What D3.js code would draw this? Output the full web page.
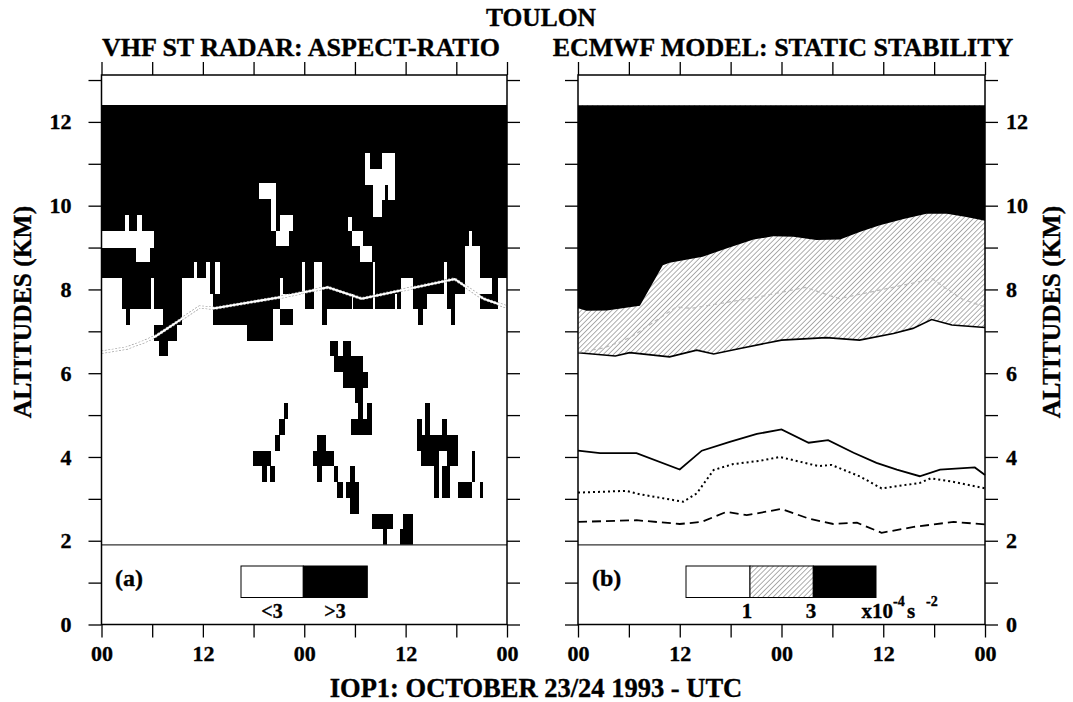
<!DOCTYPE html>
<html><head><meta charset="utf-8">
<script src="https://cdn.jsdelivr.net/npm/d3@7"></script>
<style>
body{margin:0;background:#fff}
svg{display:block}
text{font-family:"Liberation Serif","Times New Roman",serif;font-weight:bold;fill:#000;stroke:#000;stroke-width:0.35px}
</style>
</head><body><svg id="c" width="1073" height="702"></svg>
<script>
// ---------------- DATA ----------------
const hourTicks = [0,6,12,18,24,30,36,42,48];
const altTicks = [0,1,2,3,4,5,6,7,8,9,10,11,12,13];
const altLabels = [0,2,4,6,8,10,12];
const dataTop = 12.4, dataBase = 1.9;

// Radar aspect ratio (>3 black). Black region from top down to given altitude: [t0, t1, bottomKm]
const radarBlackBottom = [
 [0,2.4,8.28],[2.4,2.85,7.53],[2.85,3.35,7.15],[3.35,5.9,7.53],[5.9,6.25,8.28],[6.25,7.3,7.53],
 [7.3,9.5,7.15],[9.5,10.9,8.28],[10.9,11.25,8.65],[11.25,12.4,8.28],[12.4,12.85,8.65],[12.85,13.2,7.9],
 [13.2,14.0,7.15],[14.0,17.2,7.15],[17.2,20.3,6.78],[20.3,21.1,7.53],[21.1,21.5,8.28],[21.5,23.7,7.9],
 [23.7,24.1,8.65],[24.1,25.1,7.53],[25.1,26.1,8.65],[26.1,26.65,7.15],[26.65,29.6,7.53],[29.6,29.8,7.9],
 [29.8,32.1,7.53],[32.1,32.4,8.65],[32.4,34.75,7.53],[34.75,35.0,7.9],[35.0,35.5,7.53],[35.5,36.9,8.28],
 [36.9,37.5,7.53],[37.5,38.1,7.15],[38.1,38.5,7.53],[38.5,40.5,7.9],[40.5,40.9,8.65],[40.9,41.4,7.53],
 [41.4,41.9,7.15],[41.9,43.0,7.9],[43.0,43.5,9.03],[43.5,43.8,9.4],[43.8,44.8,9.03],[44.8,46.9,7.53],
 [46.9,48,8.28]
];
// White (<3) cells inside the black region: [t0, t1, z0, z1]
const radarWhiteCells = [
 [0,6.2,9.0,9.4],[2.8,3.3,9.4,9.78],[4.15,4.75,9.4,9.78],[4.1,5.8,8.65,9.0],
 [18.7,20.7,10.15,10.53],[20.1,20.65,9.4,10.15],[21.1,22.7,9.4,9.78],[20.65,22.2,9.03,9.4],
 [29.2,29.6,9.4,9.73],[29.6,31.0,9.03,9.4],[30.6,32.0,8.65,9.03],
 [31.2,31.8,10.5,11.25],[31.8,33.2,10.5,10.88],[33.2,33.6,10.13,11.25],[33.6,33.9,10.5,11.25],
 [33.9,34.75,10.13,11.25],[32.1,33.2,9.73,10.5],
 [13.4,14.0,7.9,8.65],[44.8,46.2,7.9,8.28]
];
// Black (>3) cells below the main region: [t0, t1, z0, z1]
const radarBlackCells = [
 [6.25,8.9,6.78,7.15],[6.8,7.9,6.4,6.78],[21.1,22.7,7.15,7.53],
 [27.05,28.0,6.4,6.78],[28.55,29.5,6.4,6.78],[27.5,31.0,6.03,6.4],[28.55,31.6,5.65,6.03],
 [30.0,31.0,5.28,5.65],[30.4,31.0,4.9,5.28],[31.4,32.0,4.9,5.28],[29.5,32.0,4.53,4.9],
 [21.6,22.1,4.9,5.28],[21.05,21.7,4.53,4.9],[20.5,21.1,4.15,4.53],[17.95,20.1,3.78,4.15],
 [19.0,19.55,3.4,3.78],[19.95,20.5,3.4,3.78],
 [25.5,26.6,4.15,4.53],[25.0,27.5,3.78,4.15],[25.5,26.05,3.4,3.78],[27.5,28.0,3.4,3.78],
 [27.9,28.55,3.03,3.4],[29.4,30.0,3.4,3.78],[29.0,30.5,3.03,3.4],[29.4,30.5,2.65,3.03],
 [32.0,34.5,2.28,2.65],[33.3,33.85,1.9,2.28],[35.7,36.85,1.9,2.65],[35.35,35.7,1.9,2.28],
 [38.3,38.9,4.53,5.28],[37.3,37.9,4.53,4.9],[40.3,40.9,4.53,4.9],[37.3,42.25,4.15,4.53],
 [37.8,39.9,3.78,4.15],[40.9,42.25,3.78,4.15],[39.3,39.9,3.03,3.78],[40.3,41.3,3.03,3.78],
 [43.85,44.2,3.4,4.15],[42.25,43.85,3.03,3.4],[44.8,45.2,3.03,3.4]
];
// Tropopause-like line: [hour, km]
const tropoLine = [[0,6.5],[3,6.6],[5,6.75],[6.3,6.87],[9.3,7.27],[11.6,7.58],[13.4,7.55],[21.3,7.82],
 [26.8,8.05],[30.8,7.78],[41.8,8.25],[45.2,7.78],[48,7.58]];

// ECMWF static stability
const n2Level3 = [[0,7.55],[1,7.49],[3.4,7.5],[7.3,7.61],[10.0,8.58],[10.8,8.64],[14.7,8.78],[17.5,8.98],
 [20.7,9.19],[23.0,9.27],[25.4,9.26],[28.1,9.18],[30.9,9.19],[33.3,9.38],[35.6,9.53],[38.4,9.68],
 [41.1,9.81],[43.5,9.81],[45.8,9.73],[48,9.64]];
const n2Level1 = [[0,6.49],[4.4,6.41],[6.1,6.49],[10.8,6.39],[14.0,6.55],[16.0,6.46],[19.1,6.59],[24.0,6.79],
 [29.3,6.85],[33.2,6.79],[37.2,6.95],[39.5,7.07],[41.7,7.28],[44.1,7.15],[48,7.09]];
const lineSolid = [[0,4.15],[2.6,4.09],[6.9,4.09],[12.0,3.70],[14.6,4.15],[17.9,4.36],[21.1,4.55],[24.0,4.66],
 [27.2,4.34],[29.5,4.40],[32.5,4.10],[35.2,3.86],[37.6,3.70],[40.3,3.54],[42.7,3.70],[46.8,3.75],[48,3.57]];
const lineDotted = [[0,3.15],[5.7,3.19],[7.3,3.11],[12.4,2.93],[14.0,3.13],[16.0,3.69],[18.3,3.83],[21.5,3.91],
 [23.8,4.0],[28.4,3.78],[29.9,3.81],[33.3,3.53],[35.8,3.25],[40.3,3.38],[41.6,3.49],[44.2,3.41],[48,3.25]];
const lineDashed = [[0,2.45],[6.9,2.49],[12.0,2.40],[14.6,2.45],[17.5,2.69],[19.9,2.61],[24.0,2.76],[27.2,2.53],
 [30.1,2.40],[32.9,2.43],[35.8,2.19],[39.6,2.33],[44.3,2.45],[48,2.39]];

// ---------------- DRAW ----------------
const svg = d3.select("#c");
const y = d3.scaleLinear().domain([0,13.12]).range([624.5,75]);
const xL = d3.scaleLinear().domain([0,48]).range([101.5,507]);
const xR = d3.scaleLinear().domain([0,48]).range([578,985]);

const defs = svg.append("defs");
const pat = defs.append("pattern").attr("id","hatch").attr("patternUnits","userSpaceOnUse")
  .attr("width",3.6).attr("height",3.6).attr("patternTransform","rotate(45)");
pat.append("rect").attr("width",3.6).attr("height",3.6).attr("fill","#fff");
pat.append("line").attr("x1",0).attr("y1",0).attr("x2",0).attr("y2",3.6)
  .attr("stroke","#333").attr("stroke-width",0.8);

// ---- Left panel ----
const gL = svg.append("g");
gL.append("rect").attr("x",xL(0)).attr("y",y(13.12)).attr("width",xL(48)-xL(0)).attr("height",y(0)-y(13.12)).attr("fill","#fff");
// black top region as one stepped area
const stepPts = radarBlackBottom.map(d=>[d[0],d[2]]).concat([[48, radarBlackBottom[radarBlackBottom.length-1][2]]]);
const stepArea = d3.area().curve(d3.curveStepAfter).x(d=>xL(d[0])).y0(y(dataTop)).y1(d=>y(d[1]));
gL.append("path").attr("d",stepArea(stepPts)).attr("fill","#000").attr("shape-rendering","crispEdges");
gL.selectAll("rect.wh").data(radarWhiteCells).join("rect").attr("class","wh")
  .attr("x",d=>xL(d[0])).attr("width",d=>xL(d[1])-xL(d[0]))
  .attr("y",d=>y(d[3])).attr("height",d=>y(d[2])-y(d[3])).attr("fill","#fff").attr("shape-rendering","crispEdges");
gL.selectAll("rect.bk").data(radarBlackCells).join("rect").attr("class","bk")
  .attr("x",d=>xL(d[0])).attr("width",d=>xL(d[1])-xL(d[0]))
  .attr("y",d=>y(d[3])).attr("height",d=>y(d[2])-y(d[3])).attr("fill","#000").attr("shape-rendering","crispEdges");
const lineL = d3.line().x(d=>xL(d[0])).y(d=>y(d[1]));
gL.append("path").attr("d",lineL(tropoLine)).attr("fill","none").attr("stroke","#999").attr("stroke-width",3.2).attr("stroke-dasharray","2,1.5");
gL.append("path").attr("d",lineL(tropoLine)).attr("fill","none").attr("stroke","#fff").attr("stroke-width",2);

// ---- Right panel ----
const gR = svg.append("g");
gR.append("rect").attr("x",xR(0)).attr("y",y(13.12)).attr("width",xR(48)-xR(0)).attr("height",y(0)-y(13.12)).attr("fill","#fff");
const areaR = d3.area().x(d=>xR(d[0])).y0(y(dataTop)).y1(d=>y(d[1]));
const lineR = d3.line().x(d=>xR(d[0])).y(d=>y(d[1]));
gR.append("path").attr("d",areaR(n2Level1)).attr("fill","url(#hatch)");
gR.append("path").attr("d",areaR(n2Level3)).attr("fill","#000");
gR.append("path").attr("d",lineR(n2Level1)).attr("fill","none").attr("stroke","#000").attr("stroke-width",1.6);
gR.append("path").attr("d",lineR(tropoLine)).attr("fill","none").attr("stroke","#bbb").attr("stroke-width",1.2).attr("stroke-dasharray","4,3");
gR.append("path").attr("d",lineR(lineSolid)).attr("fill","none").attr("stroke","#000").attr("stroke-width",1.8);
gR.append("path").attr("d",lineR(lineDotted)).attr("fill","none").attr("stroke","#000").attr("stroke-width",2).attr("stroke-dasharray","2,3");
gR.append("path").attr("d",lineR(lineDashed)).attr("fill","none").attr("stroke","#000").attr("stroke-width",1.8).attr("stroke-dasharray","9,5");

// base line at 1.9 km and frames
[xL, xR].forEach(x=>{
  svg.append("line").attr("x1",x(0)).attr("x2",x(48)).attr("y1",y(dataBase)).attr("y2",y(dataBase))
    .attr("stroke","#333").attr("stroke-width",1.1);
  svg.append("rect").attr("x",x(0)).attr("y",y(13.12)).attr("width",x(48)-x(0)).attr("height",y(0)-y(13.12))
    .attr("fill","none").attr("stroke","#000").attr("stroke-width",1.5);
});

// ---- Axes ----
const hourFmt = h => (h%24===0 ? "00" : (h%24===12 ? "12" : ""));
function styleAxis(g, size){
  g.select(".domain").remove();
  g.attr("font-family",null).attr("font-size",null);
  g.selectAll("line").attr("stroke-width",1.3);
  g.selectAll("text").style("font-size",size+"px");
}
[xL, xR].forEach(x=>{
  svg.append("g").attr("transform",`translate(0,${y(0)})`)
    .call(d3.axisBottom(x).tickValues(hourTicks).tickSize(13).tickSizeOuter(0).tickPadding(8).tickFormat(hourFmt))
    .call(g=>styleAxis(g,22));
  svg.append("g").attr("transform",`translate(0,${y(13.12)})`)
    .call(d3.axisTop(x).tickValues(hourTicks).tickSize(13).tickSizeOuter(0).tickFormat(""))
    .call(g=>styleAxis(g,22));
});
const altFmt = v => altLabels.includes(v) ? String(v) : "";
svg.append("g").attr("transform",`translate(${xL(0)},0)`)
  .call(d3.axisLeft(y).tickValues(altTicks).tickSize(13).tickSizeOuter(0).tickPadding(17).tickFormat(altFmt))
  .call(g=>styleAxis(g,22));
svg.append("g").attr("transform",`translate(${xL(48)},0)`)
  .call(d3.axisRight(y).tickValues(altTicks).tickSize(13).tickSizeOuter(0).tickFormat(""))
  .call(g=>styleAxis(g,22));
svg.append("g").attr("transform",`translate(${xR(0)},0)`)
  .call(d3.axisLeft(y).tickValues(altTicks).tickSize(13).tickSizeOuter(0).tickFormat(""))
  .call(g=>styleAxis(g,22));
svg.append("g").attr("transform",`translate(${xR(48)},0)`)
  .call(d3.axisRight(y).tickValues(altTicks).tickSize(13).tickSizeOuter(0).tickPadding(8).tickFormat(altFmt))
  .call(g=>styleAxis(g,22));

// ---- Titles ----
svg.append("text").attr("x",541).attr("y",26).attr("text-anchor","middle").style("font-size","25.5px").text("TOULON");
svg.append("text").attr("x",301).attr("y",56).attr("text-anchor","middle").style("font-size","26px").text("VHF ST RADAR: ASPECT-RATIO");
svg.append("text").attr("x",783).attr("y",56).attr("text-anchor","middle").style("font-size","26px").text("ECMWF MODEL: STATIC STABILITY");
svg.append("text").attr("x",536).attr("y",697).attr("text-anchor","middle").style("font-size","26.5px").text("IOP1: OCTOBER 23/24 1993 - UTC");
svg.append("text").attr("transform","translate(31,312) rotate(-90)").attr("text-anchor","middle").style("font-size","25.5px").text("ALTITUDES (KM)");
svg.append("text").attr("transform","translate(1060,312) rotate(-90)").attr("text-anchor","middle").style("font-size","25.5px").text("ALTITUDES (KM)");

// ---- Legends ----
svg.append("text").attr("x",115).attr("y",586).style("font-size","24px").text("(a)");
svg.append("rect").attr("x",241).attr("y",566).attr("width",62.3).attr("height",31.5).attr("fill","#fff").attr("stroke","#000").attr("stroke-width",1);
svg.append("rect").attr("x",303.3).attr("y",566).attr("width",64).attr("height",31.5).attr("fill","#000").attr("stroke","#000").attr("stroke-width",1);
svg.append("text").attr("x",272).attr("y",618).attr("text-anchor","middle").style("font-size","20px").text("<3");
svg.append("text").attr("x",335).attr("y",618).attr("text-anchor","middle").style("font-size","20px").text(">3");

svg.append("text").attr("x",592).attr("y",586).style("font-size","24px").text("(b)");
svg.append("rect").attr("x",686).attr("y",566).attr("width",64).attr("height",31.5).attr("fill","#fff").attr("stroke","#000").attr("stroke-width",1);
svg.append("rect").attr("x",750).attr("y",566).attr("width",63.3).attr("height",31.5).attr("fill","url(#hatch)").attr("stroke","#000").attr("stroke-width",1);
svg.append("rect").attr("x",813.3).attr("y",566).attr("width",62.7).attr("height",31.5).attr("fill","#000").attr("stroke","#000").attr("stroke-width",1);
svg.append("text").attr("x",747).attr("y",618).attr("text-anchor","middle").style("font-size","21px").text("1");
svg.append("text").attr("x",811).attr("y",618).attr("text-anchor","middle").style("font-size","21px").text("3");
svg.append("text").attr("x",861.5).attr("y",618).style("font-size","21px").text("x10");
svg.append("text").attr("x",893).attr("y",606).style("font-size","14px").text("-4");
svg.append("text").attr("x",907).attr("y",618).style("font-size","21px").text("s");
svg.append("text").attr("x",926).attr("y",606).style("font-size","14px").text("-2");
</script></body></html>
